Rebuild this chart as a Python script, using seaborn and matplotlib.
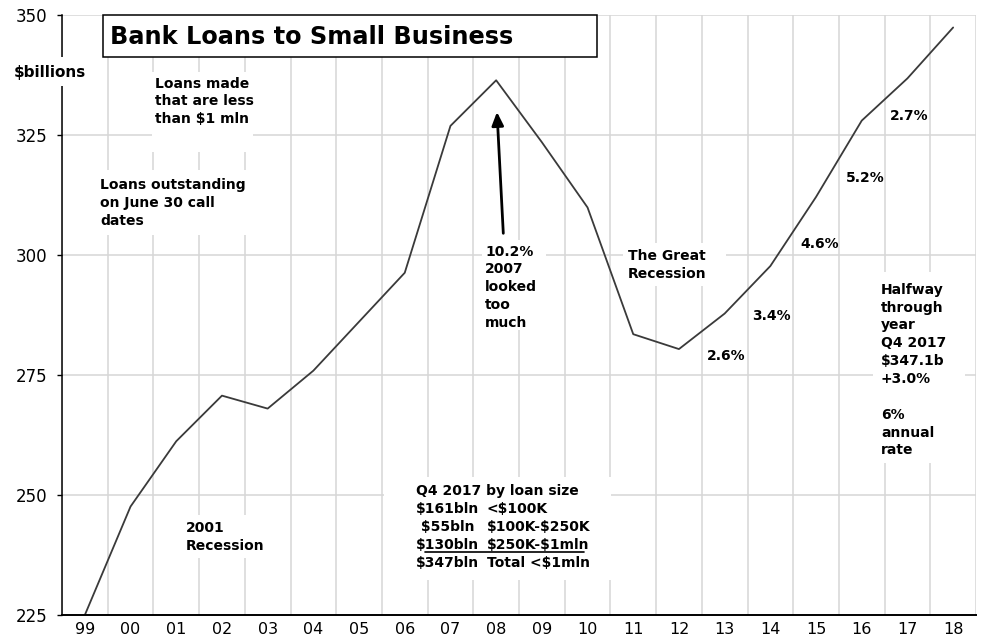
import matplotlib
matplotlib.use("Agg")
import matplotlib.pyplot as plt
import seaborn as sns
import pandas as pd
import numpy as np
from matplotlib.patches import Rectangle
from matplotlib.lines import Line2D

# ---- data ----
years = ["99", "00", "01", "02", "03", "04", "05", "06", "07", "08",
         "09", "10", "11", "12", "13", "14", "15", "16", "17", "18"]
loans = [225.0, 247.6, 261.2, 270.7, 268.0, 275.9, 286.1, 296.3, 326.9, 336.4,
         323.5, 309.9, 283.5, 280.4, 287.8, 297.7, 312.1, 328.0, 336.8, 347.4]
y_ticks = [225, 250, 275, 300, 325, 350]

sns.set_style("white")
plt.rcParams['font.family'] = ['DejaVu Sans']
plt.rcParams['text.parse_math'] = False

W, H = 982, 639
fig = plt.figure(figsize=(W / 100, H / 100), dpi=100)
ax = fig.add_axes([62 / W, 1 - 615 / H, (976 - 62) / W, 600 / H])

df = pd.DataFrame({"pos": np.arange(len(years)), "loans": loans})
sns.lineplot(data=df, x="pos", y="loans", ax=ax, color="#3a3a3a", lw=1.3, zorder=2)

ax.set_xlim(-0.5, len(years) - 0.5)
ax.set_ylim(y_ticks[0], y_ticks[-1])
ax.set_xticks(np.arange(len(years)))
ax.set_xticklabels(years)
ax.set_xticks(np.arange(len(years) + 1) - 0.5, minor=True)
ax.set_yticks(y_ticks)
ax.set_yticklabels([str(t) for t in y_ticks])
ax.grid(False)
ax.grid(axis='y', which='major', color='#d6d6d6', lw=1.1)
ax.grid(axis='x', which='minor', color='#d6d6d6', lw=1.1)
ax.set_axisbelow(True)
ax.tick_params(axis='x', which='both', length=0, labelsize=11.5, pad=5.2, colors='black')
ax.tick_params(axis='y', which='major', length=3.6, width=1, labelsize=12, pad=7,
               left=True, color='black', labelcolor='black')
ax.tick_params(axis='y', which='minor', length=0)
for s in ['top', 'right']:
    ax.spines[s].set_visible(False)
ax.spines['left'].set_color('black')
ax.spines['left'].set_linewidth(1.1)
ax.spines['bottom'].set_color('black')
ax.spines['bottom'].set_linewidth(1.4)
ax.set_xlabel('')
ax.set_ylabel('')


def P(x, y):
    return (x / W, 1 - y / H)


def box(x0, y0, x1, y1, z=1, **kw):
    r = Rectangle(P(x0, y1), (x1 - x0) / W, (y1 - y0) / H, transform=fig.transFigure,
                  facecolor='white', edgecolor='none', zorder=z, clip_on=False, **kw)
    ax.add_patch(r)


def label(x, ytop, s, size=10, **kw):
    ax.text(*P(x, ytop), s, transform=fig.transFigure, fontsize=size, fontweight='bold',
            va='top', ha='left', linespacing=1.35, zorder=5, color='black',
            parse_math=False, **kw)


# title box
ax.add_patch(Rectangle(P(103, 57), 494 / W, 42 / H, transform=fig.transFigure,
                       facecolor='white', edgecolor='black', lw=1.1, zorder=4, clip_on=False))
label(110, 24.8, "Bank Loans to Small Business", size=17.3)

# $billions
box(8, 57, 90, 86, z=2.6)
label(13.3, 65, "$billions", size=11)

# white boxes behind annotations
box(152, 72, 253, 152)
box(95, 170, 256, 235)
box(482, 240, 546, 330)
box(623, 243, 726, 286)
box(182, 515, 270, 558)
box(384, 477, 611, 580)
box(873, 272, 965, 463)

label(155, 76.5, "Loans made\nthat are less\nthan $1 mln")
label(100, 178, "Loans outstanding\non June 30 call\ndates")
label(485, 244.5, "10.2%\n2007\nlooked\ntoo\nmuch")
label(627.7, 249.5, "The Great\nRecession")
label(706.7, 348.5, "2.6%")
label(752.3, 309.5, "3.4%")
label(800.7, 237, "4.6%")
label(845.7, 170.5, "5.2%")
label(890, 109.5, "2.7%")
label(881, 282.8, "Halfway\nthrough\nyear\nQ4 2017\n$347.1b\n+3.0%\n\n6%\nannual\nrate")
label(185.7, 521, "2001\nRecession")
label(416, 484.5, "Q4 2017 by loan size")
label(416, 502.2, "$161bln\n $55bln\n$130bln\n$347bln")
label(486.7, 502.2, "<$100K\n$100K-$250K\n$250K-$1mln\nTotal <$1mln")
ax.add_line(Line2D([425 / W, 584 / W], [1 - 552 / H, 1 - 552 / H], transform=fig.transFigure,
                   color='black', lw=1.2, zorder=5, clip_on=False))

# arrow
ax.annotate("", xy=P(497, 112), xycoords=fig.transFigure,
            xytext=P(503.3, 233.3), textcoords=fig.transFigure,
            arrowprops=dict(arrowstyle="-|>,head_length=0.5,head_width=0.22",
                            mutation_scale=16, lw=2, color='black', shrinkA=0, shrinkB=0),
            zorder=6)

fig.savefig("out.png", dpi=100)
